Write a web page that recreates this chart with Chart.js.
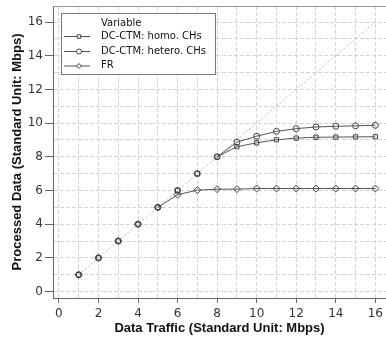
<!DOCTYPE html>
<html>
<head>
<meta charset="utf-8">
<script src="https://cdn.jsdelivr.net/npm/chart.js@4.4.1/dist/chart.umd.min.js"></script>
<style>
  html, body { margin: 0; padding: 0; background: #fff; }
  #wrap { width: 386px; height: 338px; position: relative; }
</style>
</head>
<body>
<div id="wrap"><canvas id="c"></canvas></div>
<script>
// Werte (Datenverkehr -> verarbeitete Daten, Mbps)
const traffic = [1, 2, 3, 4, 5, 6, 7, 8, 9, 10, 11, 12, 13, 14, 15, 16];
const homoCHs = [1, 2, 3, 4, 5, 6, 7, 8, 8.6, 8.83, 9.01, 9.11, 9.16, 9.17, 9.18, 9.19];
const heteroCHs = [1, 2, 3, 4, 5, 6, 7, 8, 8.87, 9.22, 9.51, 9.67, 9.77, 9.81, 9.84, 9.87];
const frValues = [1, 2, 3, 4, 5, 5.75, 6.02, 6.08, 6.08, 6.12, 6.12, 6.12, 6.12, 6.12, 6.12, 6.12];
const idealLine = [1, 2, 3, 4, 5, 6, 7, 8, 9, 10, 11, 12, 13, 14, 15, 16];

const legendTitle = 'Variable';
const seriesNames = ['DC-CTM: homo. CHs', 'DC-CTM: hetero. CHs', 'FR'];
const pointStyles = ['rect', 'circle', 'rectRot'];

const LINE = '#555';
const MARK = '#444';

const pts = (ys) => traffic.map((x, i) => ({ x, y: ys[i] }));

// Segmente auf der Diagonalen werden nicht gezeichnet (nur die gepunktete Linie)
const onDiagonal = (ctx) =>
  ctx.p0.parsed.x === ctx.p0.parsed.y && ctx.p1.parsed.x === ctx.p1.parsed.y
    ? 'rgba(0,0,0,0)' : undefined;

function series(i, ys) {
  return {
    label: seriesNames[i],
    data: pts(ys),
    borderColor: LINE,
    borderWidth: 1,
    pointStyle: pointStyles[i],
    pointRadius: i === 2 ? 3.5 : 3,
    pointBorderColor: MARK,
    pointBackgroundColor: 'rgba(0,0,0,0)',
    pointBorderWidth: 1,
    segment: { borderColor: onDiagonal },
    order: 1,
  };
}

// Eigene Legende im Diagramm (Linie + Marker wie im Original)
const boxLegend = {
  id: 'boxLegend',
  afterDraw(chart) {
    const ctx = chart.ctx;
    const x = 61.5, y = 13.5, w = 154, h = 61;
    ctx.save();
    ctx.fillStyle = '#fff';
    ctx.fillRect(x, y, w, h);
    ctx.strokeStyle = '#777';
    ctx.lineWidth = 1;
    ctx.strokeRect(x, y, w, h);
    ctx.fillStyle = '#111';
    ctx.font = '10px "DejaVu Sans"';
    ctx.textBaseline = 'middle';
    ctx.fillText(legendTitle, 101, 23.5);
    const rows = [36, 51, 65.5];
    seriesNames.forEach((name, i) => {
      const ry = rows[i];
      ctx.strokeStyle = LINE;
      ctx.beginPath();
      ctx.moveTo(64, ry + 0.5);
      ctx.lineTo(90, ry + 0.5);
      ctx.stroke();
      ctx.fillStyle = '#fff';
      ctx.strokeStyle = MARK;
      Chart.helpers.drawPoint(ctx, {
        pointStyle: pointStyles[i], radius: 2.5, borderWidth: 1, rotation: 0,
      }, 79, ry + 0.5);
      ctx.fillStyle = '#111';
      ctx.fillText(name, 101, ry);
    });
    ctx.restore();
  },
};

// Rahmen oben
const frame = {
  id: 'frame',
  beforeDatasetsDraw(chart) {
    const a = chart.chartArea, ctx = chart.ctx;
    ctx.save();
    ctx.strokeStyle = '#999';
    ctx.lineWidth = 1;
    ctx.beginPath();
    ctx.moveTo(a.left, a.top + 0.5);
    ctx.lineTo(a.right, a.top + 0.5);
    ctx.stroke();
    ctx.restore();
  },
};

const evenTick = (ctx) => (ctx.tick && ctx.tick.value % 2 === 0 ? '#666' : 'rgba(0,0,0,0)');

new Chart(document.getElementById('c'), {
  type: 'line',
  data: {
    datasets: [
      series(0, homoCHs),
      series(1, heteroCHs),
      series(2, frValues),
      {
        label: 'ideal',
        data: pts(idealLine),
        borderColor: '#bbb',
        borderWidth: 1,
        borderDash: [2, 2],
        pointRadius: 0,
        order: 2,
      },
    ],
  },
  options: {
    responsive: true,
    maintainAspectRatio: false,
    animation: false,
    layout: { autoPadding: false, padding: { top: 6, right: 0, left: 0, bottom: 0 } },
    scales: {
      x: {
        type: 'linear',
        min: -0.3,
        max: 16.54,
        afterFit: (s) => { s.height = 40; s.paddingLeft = 0; s.paddingRight = 0; },
        ticks: {
          stepSize: 1,
          includeBounds: false,
          autoSkip: false,
          maxRotation: 0,
          padding: 4,
          color: '#333',
          font: { family: 'DejaVu Sans', size: 12 },
          callback: (v) => (v % 2 === 0 ? v : ''),
        },
        grid: { color: '#d4d4d4', tickLength: 5, tickColor: evenTick },
        border: { color: '#666', dash: [4, 2] },
        title: {
          display: true,
          text: 'Data Traffic (Standard Unit: Mbps)',
          color: '#111',
          font: { family: 'Liberation Sans', size: 13, weight: 'bold' },
          padding: { top: 0, bottom: 2 },
        },
      },
      y: {
        type: 'linear',
        min: -0.38,
        max: 16.95,
        afterFit: (s) => { s.width = 53; s.paddingTop = 0; s.paddingBottom = 0; },
        ticks: {
          stepSize: 1,
          includeBounds: false,
          autoSkip: false,
          padding: 2,
          color: '#333',
          font: { family: 'DejaVu Sans', size: 12 },
          callback: (v) => (v % 2 === 0 ? v : ''),
        },
        grid: { color: '#d4d4d4', tickLength: 8, tickColor: evenTick },
        border: { color: '#666', dash: [4, 2] },
        title: {
          display: true,
          text: 'Processed Data (Standard Unit: Mbps)',
          color: '#111',
          font: { family: 'Liberation Sans', size: 13, weight: 'bold' },
          padding: { top: 10, bottom: 0 },
        },
      },
    },
    plugins: {
      legend: { display: false },
      tooltip: { enabled: false },
    },
  },
  plugins: [frame, boxLegend],
});
</script>
</body>
</html>
